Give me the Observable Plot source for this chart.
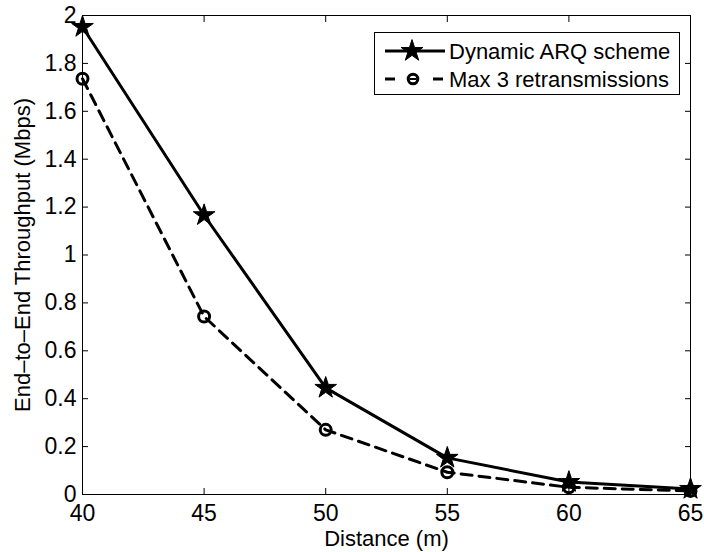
<!DOCTYPE html>
<html><head><meta charset="utf-8">
<script src="https://cdn.jsdelivr.net/npm/d3@7"></script>
<script src="https://cdn.jsdelivr.net/npm/@observablehq/plot@0.6"></script>
<style>
body{margin:0;background:#fff;}
#wrap{position:relative;width:704px;height:552px;font-family:"Liberation Sans",Arial,sans-serif;}
#legend{position:absolute;left:374px;top:32px;}
</style></head><body><div id="wrap"></div>
<script>
const distances = [40, 45, 50, 55, 60, 65];
const dynamicARQ = [1.952, 1.166, 0.445, 0.153, 0.052, 0.023];
const max3Retx = [1.736, 0.743, 0.27, 0.093, 0.03, 0.015];
const xTicks = [40, 45, 50, 55, 60, 65];
const yTicks = [0, 0.2, 0.4, 0.6, 0.8, 1, 1.2, 1.4, 1.6, 1.8, 2];
const yTickLabels = ["0", "0.2", "0.4", "0.6", "0.8", "1", "1.2", "1.4", "1.6", "1.8", "2"];
const seriesNames = ["Dynamic ARQ scheme", "Max 3 retransmissions"];
const xLabel = "Distance (m)";
const yLabel = "End\u2013to\u2013End Throughput (Mbps)";

const dyn = distances.map((d, i) => ({x: d, y: dynamicARQ[i]}));
const mx = distances.map((d, i) => ({x: d, y: max3Retx[i]}));
const font = "Liberation Sans, Arial, sans-serif";

const chart = Plot.plot({
  width: 704, height: 552,
  marginLeft: 82, marginRight: 14, marginTop: 15, marginBottom: 58,
  style: {fontFamily: font, fontSize: "22px", background: "white", color: "black", overflow: "visible"},
  x: {domain: [40, 65]},
  y: {domain: [0, 2]},
  marks: [
    Plot.frame({stroke: "black", strokeWidth: 1}),
    Plot.axisX({anchor: "bottom", ticks: xTicks, tickSize: -6, tickPadding: 16, label: null, fontSize: 23, tickFormat: d => String(d)}),
    Plot.axisX({anchor: "top", ticks: xTicks, tickSize: -6, tickPadding: 0, label: null, tickFormat: () => ""}),
    Plot.axisY({anchor: "left", ticks: yTicks, tickSize: -6, tickPadding: 12, label: null, fontSize: 23, tickFormat: d => yTickLabels[yTicks.indexOf(d)]}),
    Plot.axisY({anchor: "right", ticks: yTicks, tickSize: -6, tickPadding: 0, label: null, tickFormat: () => ""}),
    Plot.line(mx, {x: "x", y: "y", stroke: "black", strokeWidth: 3, strokeDasharray: "11,7"}),
    Plot.dot(mx, {x: "x", y: "y", r: 5.5, stroke: "black", strokeWidth: 3, fill: "none"}),
    Plot.line(dyn, {x: "x", y: "y", stroke: "black", strokeWidth: 3}),
    Plot.dot(dyn, {x: "x", y: "y", symbol: "star", r: 6.8, fill: "black", stroke: "black", strokeWidth: 1}),
    Plot.text([xLabel], {frameAnchor: "bottom", text: d => d, dy: 44, lineAnchor: "middle", textAnchor: "middle", fontSize: 22}),
    Plot.text([yLabel], {frameAnchor: "left", text: d => d, rotate: -90, dx: -60, lineAnchor: "middle", textAnchor: "middle", fontSize: 22})
  ]
});
const wrap = document.getElementById("wrap");
wrap.appendChild(chart);

// Legend
const lw = 306, lh = 63;
const leg = d3.create("svg").attr("id", "legend").attr("width", lw).attr("height", lh)
  .style("font-family", font);
leg.append("rect").attr("x", 0.5).attr("y", 0.5).attr("width", lw - 1).attr("height", lh - 1)
  .attr("fill", "white").attr("stroke", "black").attr("stroke-width", 1);
const rows = [19, 47];
// row 1
leg.append("line").attr("x1", 11).attr("x2", 71).attr("y1", rows[0]).attr("y2", rows[0])
  .attr("stroke", "black").attr("stroke-width", 3);
leg.append("path").attr("d", d3.symbol(d3.symbolStar, 6.8 * 6.8 * Math.PI)())
  .attr("transform", `translate(38,${rows[0]})`).attr("fill", "black").attr("stroke", "black");
// row 2
[[11, 21], [59, 69]].forEach(([a, b]) => leg.append("line").attr("x1", a).attr("x2", b)
  .attr("y1", rows[1]).attr("y2", rows[1]).attr("stroke", "black").attr("stroke-width", 3));
leg.append("circle").attr("cx", 39).attr("cy", rows[1]).attr("r", 4.8).attr("fill", "none")
  .attr("stroke", "black").attr("stroke-width", 3);
leg.append("line").attr("x1", 35.5).attr("x2", 42.5).attr("y1", rows[1]).attr("y2", rows[1])
  .attr("stroke", "black").attr("stroke-width", 2);
seriesNames.forEach((name, i) => leg.append("text").attr("x", 75).attr("y", rows[i])
  .attr("dominant-baseline", "central").attr("font-size", 22).attr("fill", "black").text(name));
wrap.appendChild(leg.node());
</script>
</body></html>
